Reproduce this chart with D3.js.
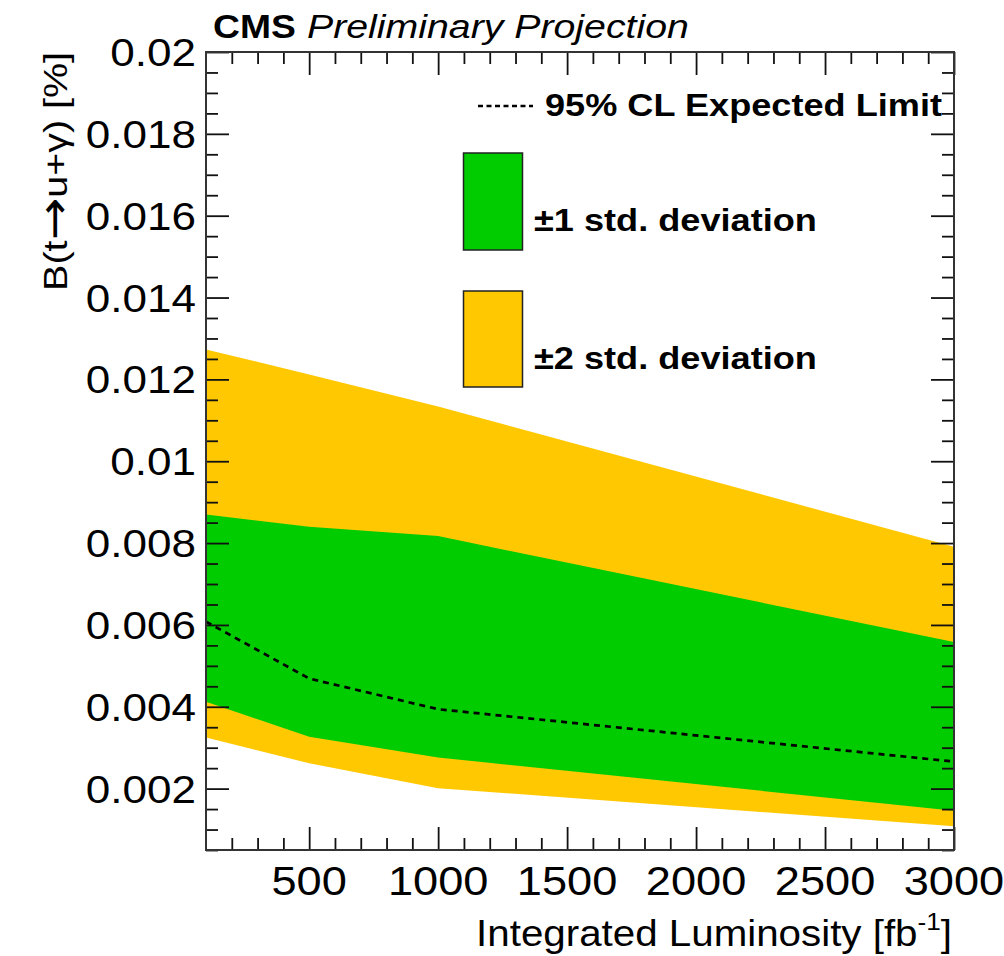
<!DOCTYPE html>
<html>
<head>
<meta charset="utf-8">
<script src="https://cdn.jsdelivr.net/npm/d3@7"></script>
<style>
  html, body { margin: 0; padding: 0; background: #fff; }
  svg text { font-family: "Liberation Sans", Arial, Helvetica, sans-serif; fill: #000; }
</style>
</head>
<body>
<svg id="chart" width="1004" height="956"></svg>
<script>
// Projected 95% CL expected limit on B(t -> u + gamma) vs integrated luminosity
const luminosity   = [100, 500, 1000, 3000];
const expected     = [0.00608, 0.00469, 0.00394, 0.00266];
const oneSigmaUp   = [0.00870, 0.00840, 0.00817, 0.00558];
const oneSigmaDown = [0.00412, 0.00327, 0.00276, 0.00146];
const twoSigmaUp   = [0.01273, 0.01212, 0.01134, 0.00791];
const twoSigmaDown = [0.00325, 0.00262, 0.00201, 0.00108];

const xMajorTicks = [500, 1000, 1500, 2000, 2500, 3000];
const yMajorTicks = [0.002, 0.004, 0.006, 0.008, 0.01, 0.012, 0.014, 0.016, 0.018, 0.02];
const xDomain = [100, 3000];
const yDomain = [0.0005, 0.02];

const frame = { left: 206, right: 954, top: 52, bottom: 850 };
const sx = 1.13; // horizontal glyph stretch used for labels

const svg = d3.select("#chart");
const x = d3.scaleLinear().domain(xDomain).range([frame.left, frame.right]);
const y = d3.scaleLinear().domain(yDomain).range([frame.bottom, frame.top]);

const rows = luminosity.map((l, i) => ({
  l, exp: expected[i], u1: oneSigmaUp[i], d1: oneSigmaDown[i], u2: twoSigmaUp[i], d2: twoSigmaDown[i]
}));

svg.append("defs").append("clipPath").attr("id", "plotClip")
  .append("rect").attr("x", frame.left).attr("y", frame.top)
  .attr("width", frame.right - frame.left).attr("height", frame.bottom - frame.top);

const plot = svg.append("g").attr("clip-path", "url(#plotClip)");

// +-2 sigma band
plot.append("path").datum(rows)
  .attr("fill", "#ffc800")
  .attr("d", d3.area().x(d => x(d.l)).y0(d => y(d.d2)).y1(d => y(d.u2)));

// +-1 sigma band
plot.append("path").datum(rows)
  .attr("fill", "#00cc00")
  .attr("d", d3.area().x(d => x(d.l)).y0(d => y(d.d1)).y1(d => y(d.u1)));

// expected limit
plot.append("path").datum(rows)
  .attr("fill", "none").attr("stroke", "#000").attr("stroke-width", 2.7)
  .attr("stroke-dasharray", "6,5")
  .attr("d", d3.line().x(d => x(d.l)).y(d => y(d.exp)));

// Tick marks on all four sides
const xMinor = d3.range(200, 3000, 100).filter(v => v % 500 !== 0);
const yMinor = d3.range(1, 40).map(k => +(k * 0.0005).toFixed(4)).filter(v => Math.round(v * 10000) % 20 !== 0);
const majorLen = 23, minorLen = 12;

function styleAxis(g) {
  g.select(".domain").remove();
  g.selectAll("line").attr("stroke", "#111").attr("stroke-width", 1.8);
}

svg.append("g").attr("transform", `translate(0,${frame.bottom})`)
  .call(d3.axisBottom(x).tickValues(xMajorTicks).tickSize(-majorLen).tickFormat("")).call(styleAxis);
svg.append("g").attr("transform", `translate(0,${frame.bottom})`)
  .call(d3.axisBottom(x).tickValues(xMinor).tickSize(-minorLen).tickFormat("")).call(styleAxis);
svg.append("g").attr("transform", `translate(0,${frame.top})`)
  .call(d3.axisTop(x).tickValues(xMajorTicks).tickSize(-majorLen).tickFormat("")).call(styleAxis);
svg.append("g").attr("transform", `translate(0,${frame.top})`)
  .call(d3.axisTop(x).tickValues(xMinor).tickSize(-minorLen).tickFormat("")).call(styleAxis);

svg.append("g").attr("transform", `translate(${frame.left},0)`)
  .call(d3.axisLeft(y).tickValues(yMajorTicks).tickSize(-majorLen).tickFormat("")).call(styleAxis);
svg.append("g").attr("transform", `translate(${frame.left},0)`)
  .call(d3.axisLeft(y).tickValues(yMinor).tickSize(-minorLen).tickFormat("")).call(styleAxis);
svg.append("g").attr("transform", `translate(${frame.right},0)`)
  .call(d3.axisRight(y).tickValues(yMajorTicks).tickSize(-majorLen).tickFormat("")).call(styleAxis);
svg.append("g").attr("transform", `translate(${frame.right},0)`)
  .call(d3.axisRight(y).tickValues(yMinor).tickSize(-minorLen).tickFormat("")).call(styleAxis);

// Frame
svg.append("rect")
  .attr("x", frame.left).attr("y", frame.top)
  .attr("width", frame.right - frame.left).attr("height", frame.bottom - frame.top)
  .attr("fill", "none").attr("stroke", "#333").attr("stroke-width", 2);

// Helper for stretched horizontal text
function label(g, tx, ty, anchor, size, weight, style, stretch) {
  return g.append("text")
    .attr("transform", `translate(${tx},${ty}) scale(${stretch || sx},1)`)
    .attr("text-anchor", anchor)
    .attr("font-size", size)
    .attr("font-weight", weight || "normal")
    .attr("font-style", style || "normal");
}

// Tick labels
xMajorTicks.forEach(v => {
  label(svg, x(v), 895, "middle", 40).text(v);
});
yMajorTicks.forEach(v => {
  label(svg, 196, y(v) + 14, "end", 39).text(String(+v.toFixed(3)));
});

// Axis titles
const xt = label(svg, 952, 946, "end", 37, null, null, 1.09);
xt.append("tspan").text("Integrated Luminosity [fb");
xt.append("tspan").attr("font-size", 24).attr("dy", -16).text("-1");
xt.append("tspan").attr("dy", 16).text("]");

const yt = svg.append("text")
  .attr("transform", `translate(67,52) rotate(-90) scale(1.16,1)`)
  .attr("text-anchor", "end")
  .attr("font-size", 34);
yt.append("tspan").text("B(t");
yt.append("tspan").attr("font-family", "DejaVu Sans").attr("font-size", 44).attr("dy", 2).text("\u2192");
yt.append("tspan").attr("dy", -2).text("u+\u03b3) [%]");

// Header
label(svg, 213, 38, "start", 33, "bold").text("CMS");
label(svg, 307, 38, "start", 33, "normal", "italic", 1.19).text("Preliminary Projection");

// Legend
const leg = svg.append("g");
leg.append("line")
  .attr("x1", 478).attr("x2", 533).attr("y1", 106).attr("y2", 106)
  .attr("stroke", "#000").attr("stroke-width", 2.4).attr("stroke-dasharray", "5,3.5");
label(leg, 545, 116, "start", 32, "bold").text("95% CL Expected Limit");

leg.append("rect").attr("x", 463.5).attr("y", 153).attr("width", 59).attr("height", 97)
  .attr("fill", "#00cc00").attr("stroke", "#222").attr("stroke-width", 1.5);
label(leg, 534, 231, "start", 32, "bold").text("\u00b11 std. deviation");

leg.append("rect").attr("x", 463.5).attr("y", 291).attr("width", 59).attr("height", 96)
  .attr("fill", "#ffc800").attr("stroke", "#222").attr("stroke-width", 1.5);
label(leg, 534, 369, "start", 32, "bold").text("\u00b12 std. deviation");
</script>
</body>
</html>
